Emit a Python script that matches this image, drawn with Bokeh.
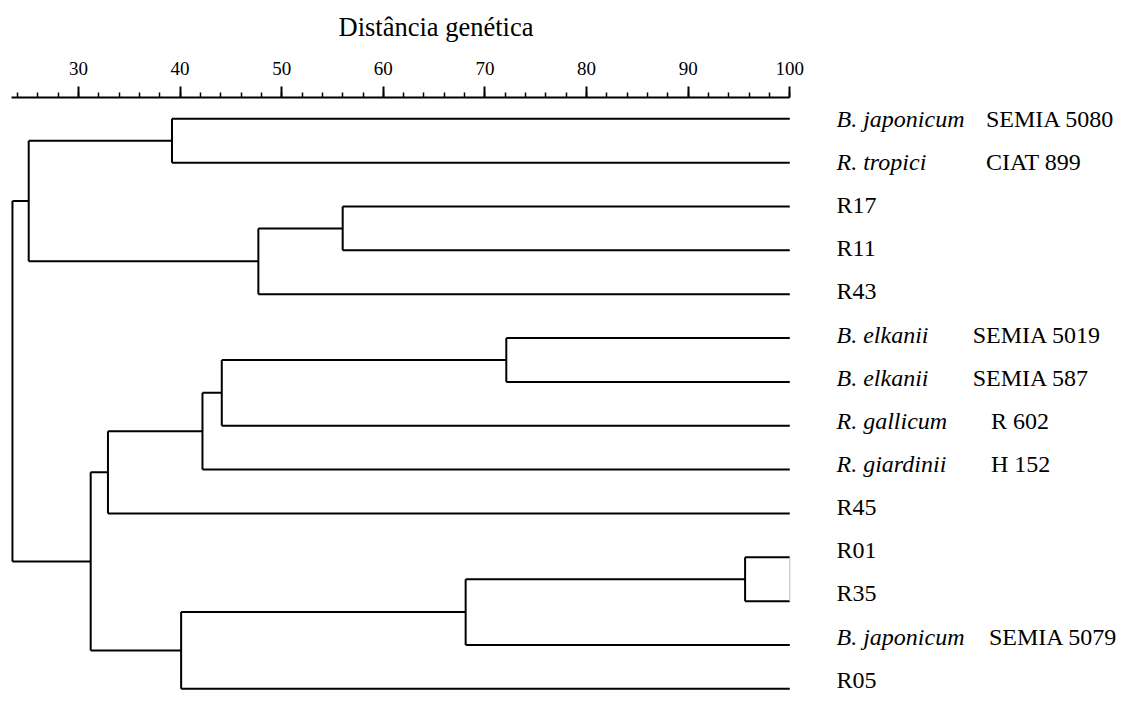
from bokeh.plotting import figure
from bokeh.layouts import column
from bokeh.models import Range1d, LinearAxis, FixedTicker, ColumnDataSource
from bokeh.core.properties import value
from bokeh.embed import file_html
from bokeh.resources import INLINE

# ---------------- data ----------------
# leaves, top to bottom
leaf_first = ["B. japonicum", "R. tropici", "R17", "R11", "R43",
              "B. elkanii", "B. elkanii", "R. gallicum", "R. giardinii", "R45",
              "R01", "R35", "B. japonicum", "R05"]
leaf_italic = [True, True, False, False, False,
               True, True, True, True, False,
               False, False, True, False]
leaf_strain = ["SEMIA 5080", "CIAT 899", "", "", "",
               "SEMIA 5019", "SEMIA 587", "R 602", "H 152", "",
               "", "", "SEMIA 5079", ""]

# linkage: cluster ids 0..13 are leaves, new clusters numbered from 14
merge_a = [0, 2, 15, 14, 5, 18, 19, 20, 10, 22, 23, 21, 17]
merge_b = [1, 3, 4, 16, 6, 7, 8, 9, 11, 12, 13, 24, 25]
merge_dist = [39.2, 56.0, 47.7, 25.1, 72.1, 44.1, 42.2, 32.9, 95.6, 68.1, 40.1, 31.2, 23.5]

major_ticks = [30, 40, 50, 60, 70, 80, 90, 100]
minor_ticks = list(range(24, 101, 2))
axis_title = "Distância genética"

# ---------------- layout ----------------
FONT = value("Liberation Serif")
LEAF_END = 100.0
W, H = 1123, 702
STRIP_H = 48          # strip holding the axis caption
TOP = 97 - STRIP_H    # border above the frame in the main figure

xr = Range1d(22.324, 132.84)

n = len(leaf_first)
node_x = {i: LEAF_END for i in range(n)}
node_y = {i: float(i) for i in range(n)}
x0, y0, x1, y1 = [], [], [], []
for k, (a, b, d) in enumerate(zip(merge_a, merge_b, merge_dist)):
    cid = n + k
    ya, yb = node_y[a], node_y[b]
    x0.append(d); y0.append(ya); x1.append(d); y1.append(yb)
    x0.append(d); y0.append(ya); x1.append(node_x[a]); y1.append(ya)
    x0.append(d); y0.append(yb); x1.append(node_x[b]); y1.append(yb)
    node_x[cid] = d
    node_y[cid] = (ya + yb) / 2.0

# caption strip
cap = figure(width=W, height=STRIP_H, x_range=xr, y_range=Range1d(STRIP_H, 0),
             output_backend="svg", toolbar_location=None,
             x_axis_location=None, y_axis_location=None,
             min_border_left=0, min_border_right=0, min_border_top=0, min_border_bottom=0)
cap.outline_line_color = None
cap.xgrid.visible = False
cap.ygrid.visible = False
cap.text(x=[55.59], y=[26], text=[axis_title], text_font=FONT, text_font_size="26.5px",
         text_color="black", text_align="left", text_baseline="middle")

p = figure(width=W, height=H - STRIP_H,
           x_range=xr, y_range=Range1d(13.311, -0.486),
           output_backend="svg", toolbar_location=None,
           x_axis_location=None, y_axis_location=None,
           min_border_left=0, min_border_right=0, min_border_top=TOP, min_border_bottom=0)
p.outline_line_color = None
p.xgrid.visible = False
p.ygrid.visible = False
p.background_fill_color = "white"
p.border_fill_color = "white"

p.segment(x0=x0, y0=y0, x1=x1, y1=y1, line_color="black", line_width=2)

# thin grey closing edge on the R01/R35 pair
p.segment(x0=[LEAF_END], y0=[node_y[10]], x1=[LEAF_END], y1=[node_y[11]],
          line_color="#bbbbbb", line_width=1)

LABEL_DRIFT = -0.7  # px per row

def rows(cond):
    return [i for i in range(n) if cond(i)]

it_rows = rows(lambda i: leaf_italic[i])
no_rows = rows(lambda i: not leaf_italic[i])
ital = ColumnDataSource(dict(x=[104.6] * len(it_rows), y=it_rows,
                             t=[leaf_first[i] for i in it_rows],
                             dy=[LABEL_DRIFT * i for i in it_rows]))
norm = ColumnDataSource(dict(x=[104.6] * len(no_rows), y=no_rows,
                             t=[leaf_first[i] for i in no_rows],
                             dy=[LABEL_DRIFT * i for i in no_rows]))
p.text(x="x", y="y", text="t", y_offset="dy", source=ital, text_font=FONT,
       text_font_style="italic", text_font_size="24px", text_color="black",
       text_baseline="middle", text_align="left")
p.text(x="x", y="y", text="t", y_offset="dy", source=norm, text_font=FONT,
       text_font_size="24px", text_color="black",
       text_baseline="middle", text_align="left")

strain_col_x = [119.3, 119.3, 0, 0, 0, 118.0, 118.0, 119.8, 119.8, 0, 0, 0, 119.6, 0]
sidx = rows(lambda i: bool(leaf_strain[i]))
strain = ColumnDataSource(dict(x=[strain_col_x[i] for i in sidx], y=sidx,
                               t=[leaf_strain[i] for i in sidx],
                               dy=[LABEL_DRIFT * i for i in sidx]))
p.text(x="x", y="y", text="t", y_offset="dy", source=strain, text_font=FONT,
       text_font_size="24px", text_color="black",
       text_baseline="middle", text_align="left")

# top axis
ax = LinearAxis(ticker=FixedTicker(ticks=major_ticks, minor_ticks=minor_ticks),
                bounds=(23.45, 100))
ax.axis_line_color = "black"
ax.axis_line_width = 2
ax.major_tick_line_color = "black"
ax.major_tick_line_width = 2
ax.minor_tick_line_color = "black"
ax.minor_tick_line_width = 1.5
ax.major_tick_out = 11
ax.major_tick_in = 0
ax.minor_tick_out = 5
ax.minor_tick_in = 0
ax.major_label_standoff = 12
ax.major_label_text_font = "Liberation Serif"
ax.major_label_text_font_size = "19px"
ax.major_label_text_color = "black"
p.add_layout(ax, "above")

layout = column(cap, p, spacing=0)
open("out.html", "w").write(file_html(layout, INLINE))
